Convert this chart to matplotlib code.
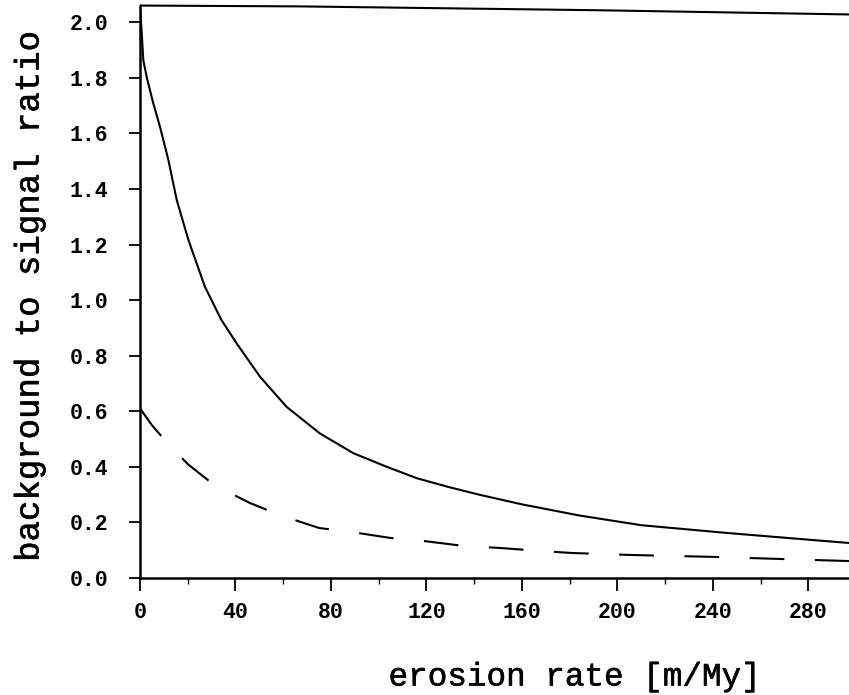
import numpy as np
import matplotlib
matplotlib.use("Agg")
import matplotlib.pyplot as plt
import matplotlib.patheffects as pe
from matplotlib.ticker import MultipleLocator

plt.rcParams["font.family"] = ["Liberation Mono", "DejaVu Sans Mono"]
plt.rcParams["lines.scale_dashes"] = False

# values
top_x = [0, 67, 193, 297]
top_y = [2.06, 2.057, 2.043, 2.028]

solid_x = [0, 0.8, 1.4, 2.8, 5.5, 8.4, 11.9, 15.4, 20.3, 27.2, 34, 40.5,
           50.3, 61.4, 75.4, 89.4, 103.4, 116, 129, 142, 160, 184, 210,
           246, 270, 297]
solid_y = [2.06, 1.95, 1.863, 1.803, 1.71, 1.623, 1.504, 1.36, 1.216, 1.048,
           0.93, 0.844, 0.724, 0.616, 0.52, 0.449, 0.40, 0.359, 0.328, 0.30,
           0.265, 0.225, 0.19, 0.162, 0.145, 0.126]

dash_x = [0, 5, 10, 20, 31, 46, 59, 75, 89, 105, 119, 136, 151, 168, 181,
          205, 240, 270, 297]
dash_y = [0.61, 0.55, 0.50, 0.41, 0.335, 0.27, 0.225, 0.18, 0.165, 0.144,
          0.133, 0.115, 0.108, 0.097, 0.09, 0.083, 0.076, 0.068, 0.061]

x_ticks = [0, 40, 80, 120, 160, 200, 240, 280]
y_ticks = [0.0, 0.2, 0.4, 0.6, 0.8, 1.0, 1.2, 1.4, 1.6, 1.8, 2.0]

fig = plt.figure(figsize=(8.49, 6.95), dpi=100)
ax = fig.add_axes([140 / 849, 1 - 578 / 695, 1 - 140 / 849, 578 / 695])

ax.plot(top_x, top_y, color="black", lw=1.5)
ax.plot(solid_x, solid_y, color="black", lw=1.5)
ax.plot(dash_x, dash_y, color="black", lw=1.5, dashes=(25, 22))

ax.set_xlim(0, 297)
ax.set_ylim(0, 2.08)
for s in ["top", "right"]:
    ax.spines[s].set_visible(False)
for s in ["left", "bottom"]:
    ax.spines[s].set_linewidth(1.8)
ax.spines["left"].set_bounds(0, 2.06)

ax.set_xticks(x_ticks)
ax.set_xticklabels([str(v) for v in x_ticks])
ax.xaxis.set_minor_locator(MultipleLocator(20))
ax.set_yticks(y_ticks)
ax.set_yticklabels([f"{v:.1f}" for v in y_ticks])

ax.tick_params(axis="x", which="major", length=9, width=1.3, pad=8,
               labelsize=15.5)
ax.tick_params(axis="x", which="minor", length=4, width=1.0)
ax.tick_params(axis="y", which="major", length=8, width=1.3, pad=15,
               labelsize=15.5)
for lab in ax.get_xticklabels() + ax.get_yticklabels():
    lab.set_fontweight("bold")

thick = [pe.withStroke(linewidth=0.4, foreground="black")]
fig.text(575 / 849, 1 - 677 / 695, "erosion rate [m/My]", fontsize=23.5,
         ha="center", va="center", path_effects=thick)
fig.text(30 / 849, 1 - 297 / 695, "background to signal ratio",
         fontsize=24.5, rotation=90, ha="center", va="center",
         path_effects=thick)

fig.savefig("out.png", dpi=100)
